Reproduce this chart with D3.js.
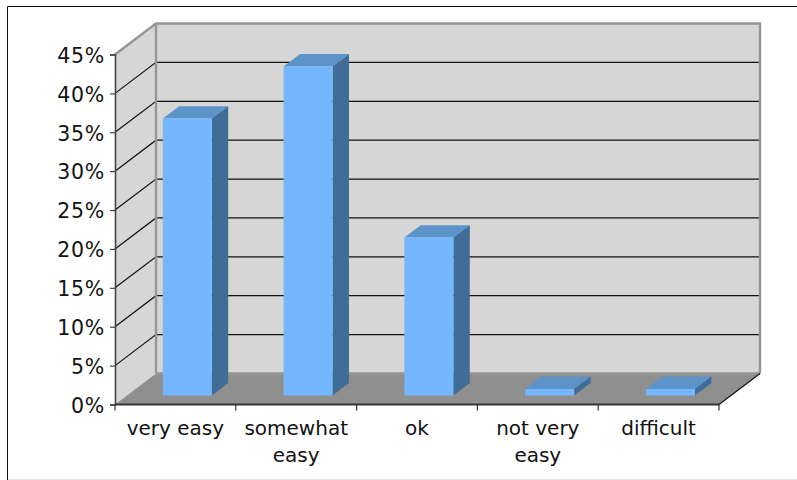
<!DOCTYPE html>
<html>
<head>
<meta charset="utf-8">
<script src="https://cdn.jsdelivr.net/npm/d3@7/dist/d3.min.js"></script>
<style>
html,body{margin:0;padding:0;background:#fff;}
svg{display:block;}
text{font-family:"DejaVu Sans",sans-serif;fill:#111;}
</style>
</head>
<body>
<div id="chart"></div>
<script>
// Ease-of-use survey answers, as a percentage of respondents
const categories = ["very easy", "somewhat easy", "ok", "not very easy", "difficult"];
const shares = [35.6, 42.3, 20.3, 0.85, 0.85];
const percentTicks = [0, 5, 10, 15, 20, 25, 30, 35, 40, 45];

const width = 797, height = 480;
const svg = d3.select("#chart").append("svg").attr("width", width).attr("height", height);

// Front plane of the 3D box
const x = d3.scaleBand().domain(categories).range([115, 719]);
const y = d3.scaleLinear().domain([0, 45]).range([404.5, 54.5]);
// Depth runs from the front plane (0) to the back wall (1)
const depthX = d3.scaleLinear().domain([0, 1]).range([0, 41]);
const depthY = d3.scaleLinear().domain([0, 1]).range([0, -31]);
const proj = (px, py, d) => [px + depthX(d), py + depthY(d)];
const line = d3.line();
const poly = pts => line(pts) + "Z";

const [x0, x1] = x.range();
const yBase = y(0), yTop = y(45);

// Frame around the chart area
svg.append("path").attr("d", `M7.5,480V6.5H797`).attr("fill", "none").attr("stroke", "#111").attr("stroke-width", 1);
svg.append("rect").attr("x", 8).attr("y", 479).attr("width", 789).attr("height", 1).attr("fill", "#e6e6e6");

// Walls and floor
const walls = svg.append("g");
walls.append("path")
  .attr("d", poly([proj(x0, yTop, 1), proj(x1, yTop, 1), proj(x1, yBase, 1), proj(x0, yBase, 1)]))
  .attr("fill", "#d6d6d6");
walls.append("path")
  .attr("d", poly([proj(x0, yTop, 0), proj(x0, yTop, 1), proj(x0, yBase, 1), proj(x0, yBase, 0)]))
  .attr("fill", "#d6d6d6");
walls.append("path")
  .attr("d", poly([proj(x0, yBase, 0), proj(x0, yBase, 1), proj(x1, yBase, 1), proj(x1, yBase, 0)]))
  .attr("fill", "#8f8f8f");

// Gridlines across the side wall and the back wall
const grid = svg.append("g").attr("fill", "none").attr("stroke", "#111").attr("stroke-width", 1.2);
percentTicks.filter(t => t > 0 && t < 45).forEach(t => {
  grid.append("path").attr("d", line([proj(x0, y(t), 0), proj(x0, y(t), 1), proj(x1, y(t), 1)]));
});

// Grey edges of the box
const edges = svg.append("g").attr("fill", "none").attr("stroke", "#969696").attr("stroke-width", 2.4);
edges.append("path").attr("d", line([proj(x0, yTop, 0), proj(x0, yTop, 1), proj(x1, yTop, 1), proj(x1, yBase, 1)]));
edges.append("path").attr("d", line([proj(x0, yTop, 1), proj(x0, yBase, 1)]));
edges.append("path").attr("d", line([proj(x0, yBase, 1), proj(x1, yBase, 1)]));

// Near edge on the right of the floor
svg.append("path").attr("d", line([proj(x1, yBase, 0), proj(x1, yBase, 1)]))
  .attr("fill", "none").attr("stroke", "#111").attr("stroke-width", 1.2);

// Bars: each is a prism standing a little behind the front plane
const barWidth = 49;
const dNear = 0.29, dFar = 0.69;
const bars = svg.append("g").selectAll("g").data(categories).join("g");
bars.each(function (c, i) {
  const g = d3.select(this);
  const left = x(c) + (x.bandwidth() - barWidth) / 2;
  const right = left + barWidth;
  const v = shares[i];
  const top = y(v);
  g.append("path").attr("d", poly([proj(left, top, dNear), proj(right, top, dNear), proj(right, top, dFar), proj(left, top, dFar)])).attr("fill", "#5c94ca");
  g.append("path").attr("d", poly([proj(right, top, dNear), proj(right, top, dFar), proj(right, yBase, dFar), proj(right, yBase, dNear)])).attr("fill", "#406d97");
  g.append("path").attr("d", poly([proj(left, top, dNear), proj(right, top, dNear), proj(right, yBase, dNear), proj(left, yBase, dNear)])).attr("fill", "#74b7ff");
});

// Value axis
const yAxis = svg.append("g").attr("transform", `translate(${x0},0)`)
  .call(d3.axisLeft(y).tickValues(percentTicks).tickFormat(d => d + "%").tickSize(5).tickPadding(5));
yAxis.select(".domain").attr("stroke", "#444").attr("stroke-width", 1.6);
yAxis.selectAll(".tick line").attr("stroke", "#444").attr("stroke-width", 1.2);
yAxis.selectAll(".tick text")
  .attr("font-size", 20.5).attr("dy", "0.38em").attr("letter-spacing", 0.7)
  .style("font-family", '"DejaVu Sans",sans-serif').attr("fill", "#111");

// Category axis with wrapped labels
const xAxis = svg.append("g").attr("transform", `translate(0,${yBase})`);
xAxis.append("path").attr("d", `M${x0},0H${x1}`).attr("stroke", "#333").attr("stroke-width", 2).attr("fill", "none");
const edgesX = categories.map(c => x(c)).concat([x1]);
xAxis.selectAll("line").data(edgesX).join("line")
  .attr("x1", d => d).attr("x2", d => d).attr("y1", 0).attr("y2", 6)
  .attr("stroke", "#333").attr("stroke-width", 1.2);

const wrapped = { "somewhat easy": ["somewhat", "easy"], "not very easy": ["not very", "easy"] };
xAxis.selectAll("text").data(categories).join("text")
  .attr("text-anchor", "middle").attr("font-size", 20)
  .each(function (c) {
    const cx = x(c) + x.bandwidth() / 2 - 0;
    (wrapped[c] || [c]).forEach((ln, k) => {
      d3.select(this).append("tspan").attr("x", cx).attr("y", 30 + k * 27).text(ln);
    });
  });
</script>
</body>
</html>
